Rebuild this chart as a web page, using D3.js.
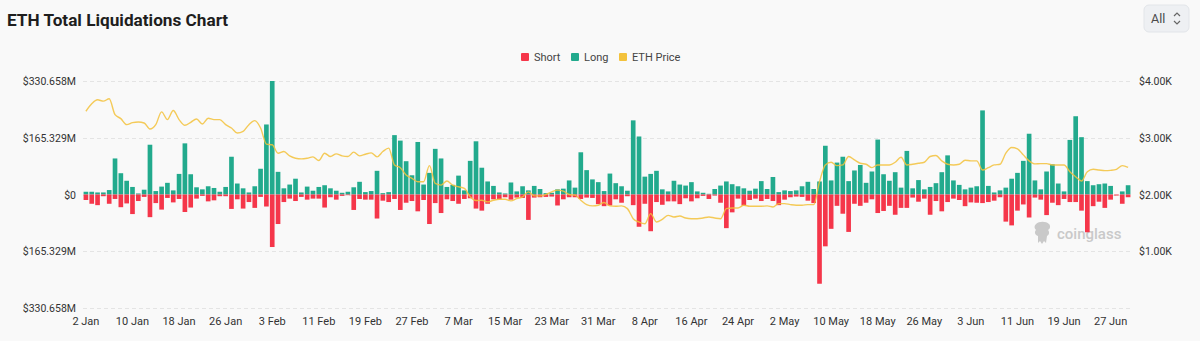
<!DOCTYPE html>
<html>
<head>
<meta charset="utf-8">
<script src="https://cdn.jsdelivr.net/npm/d3@7/dist/d3.min.js"></script>
<style>
  html, body { margin: 0; padding: 0; background: #f9f9f9; }
  svg { display: block; font-family: Roboto, "Noto Sans", sans-serif; }
</style>
</head>
<body>
<svg id="chart" width="1200" height="341"></svg>
<script>
// Daily ETH liquidations (USD millions) and ETH close price, 2 Jan – 30 Jun
const days = d3.timeDay.range(new Date(2025, 0, 2), new Date(2025, 6, 1));

const longM = [
  8, 8, 6, 6, 13, 105, 62, 40, 22, 3, 14, 145, 10, 23, 34, 12, 60, 149, 59, 21, 15, 24, 19, 8, 22, 110, 32, 18, 6, 24, 75, 204, 330.658, 66, 18, 29,
  46, 6, 23, 11, 22, 27, 18, 11, 5, 8, 21, 37, 7, 10, 69, 4, 7, 173, 157, 97, 56, 153, 29, 63, 133, 105, 22, 28, 55, 12, 98, 155, 78, 38, 25, 6,
  3, 35, 9, 24, 12, 25, 16, 4, 5, 15, 17, 41, 20, 123, 71, 44, 36, 10, 61, 33, 24, 11, 216, 169, 52, 60, 69, 15, 9, 40, 29, 26, 36, 9, 5, 2,
  16, 26, 38, 30, 24, 18, 11, 17, 39, 16, 51, 7, 12, 10, 12, 24, 37, 16, 38, 142, 41, 93, 110, 39, 70, 86, 34, 67, 160, 59, 40, 65, 20, 127, 18, 42,
  15, 22, 33, 65, 114, 41, 28, 15, 20, 24, 245, 25, 6, 12, 20, 46, 63, 98, 177, 41, 15, 67, 88, 32, 9, 159, 228, 167, 39, 27, 30, 32, 25, 0, 9, 27
];

const shortM = [
  16, 27, 31, 5, 27, 13, 37, 26, 57, 19, 7, 66, 25, 44, 10, 23, 13, 51, 38, 12, 4, 20, 17, 5, 5, 42, 14, 41, 22, 39, 7, 35, 153, 86, 22, 12,
  19, 7, 15, 12, 12, 38, 8, 15, 4, 2, 45, 13, 15, 15, 70, 18, 22, 13, 45, 24, 19, 49, 16, 86, 25, 54, 14, 19, 27, 13, 11, 41, 47, 27, 14, 14,
  8, 15, 9, 10, 74, 9, 8, 7, 6, 32, 14, 8, 8, 13, 9, 10, 28, 34, 32, 14, 24, 5, 31, 94, 27, 107, 22, 30, 20, 20, 28, 11, 20, 11, 4, 13,
  3, 24, 98, 52, 12, 32, 16, 12, 19, 13, 19, 31, 15, 8, 6, 7, 18, 25, 260, 151, 100, 33, 56, 109, 27, 33, 24, 14, 54, 48, 33, 59, 39, 39, 9, 21,
  12, 59, 19, 49, 22, 12, 16, 34, 23, 24, 25, 22, 18, 8, 79, 90, 47, 29, 67, 9, 15, 60, 24, 31, 13, 22, 22, 47, 110, 34, 21, 39, 15, 3, 27, 8
];

const ethPrice = [
  3467, 3598, 3669, 3645, 3686, 3408, 3337, 3231, 3266, 3278, 3260, 3154, 3231, 3456, 3320, 3479, 3320, 3219, 3272, 3331, 3243, 3343, 3320, 3320, 3231, 3172, 3083, 3112, 3231, 3302, 3172, 2888, 2876, 2728, 2757, 2680,
  2639, 2627, 2639, 2663, 2598, 2728, 2669, 2716, 2680, 2669, 2746, 2680, 2710, 2734, 2663, 2757, 2817, 2521, 2473, 2343, 2284, 2225, 2225, 2509, 2195, 2166, 2237, 2166, 2136, 2107, 1959, 1893, 1899, 1870, 1899, 1917,
  1917, 1888, 1929, 1959, 2047, 1976, 1976, 2000, 2047, 2077, 2059, 2000, 1988, 1899, 1822, 1799, 1811, 1858, 1799, 1793, 1799, 1751, 1574, 1515, 1485, 1663, 1515, 1562, 1633, 1604, 1621, 1586, 1574, 1574, 1586, 1604,
  1586, 1574, 1751, 1763, 1763, 1811, 1793, 1793, 1793, 1799, 1781, 1840, 1840, 1822, 1811, 1811, 1822, 1822, 2225, 2521, 2568, 2509, 2521, 2669, 2609, 2550, 2533, 2473, 2521, 2521, 2521, 2568, 2657, 2521, 2533, 2550,
  2568, 2669, 2686, 2592, 2533, 2521, 2533, 2604, 2592, 2592, 2432, 2473, 2521, 2533, 2728, 2828, 2805, 2698, 2592, 2539, 2544, 2544, 2521, 2521, 2521, 2402, 2314, 2237, 2402, 2444, 2432, 2420, 2426, 2444, 2509, 2479
];

const leftTicks = [330.658, 165.329, 0, -165.329, -330.658];
const leftTickLabels = ["$330.658M", "$165.329M", "$0", "$165.329M", "$330.658M"];
const rightTicks = [4000, 3000, 2000, 1000];
const rightTickLabels = ["$4.00K", "$3.00K", "$2.00K", "$1.00K"];
const xTickEvery = 8;
const fmtDay = d3.timeFormat("%-d %b");

const colors = { short: "#f5364a", long: "#22aa8d", price: "#f3c23c" };

const svg = d3.select("#chart");
const plot = { left: 83, right: 1131, top: 81, bottom: 308 };

const x = d3.scaleBand().domain(d3.range(days.length)).range([plot.left, plot.right]).paddingInner(0.2).paddingOuter(0.1);
const y = d3.scaleLinear().domain([-330.658, 330.658]).range([plot.bottom, plot.top]);
const yP = d3.scaleLinear().domain([0, 4000]).range([plot.bottom, plot.top]);

// title
svg.append("text").attr("x", 7).attr("y", 26)
  .attr("font-size", 17.2).attr("font-weight", 700).attr("fill", "#1e1e1e")
  .text("ETH Total Liquidations Chart");

// range selector
const sel = svg.append("g").attr("transform", "translate(1144,5)");
sel.append("rect").attr("width", 45).attr("height", 27).attr("rx", 5)
  .attr("fill", "#eef0f3").attr("stroke", "#e2e5e9");
sel.append("text").attr("x", 7).attr("y", 18).attr("font-size", 12.5).attr("fill", "#4a4a4a").text("All");
sel.append("path").attr("d", "M30 11 L33 8 L36 11 M30 16 L33 19 L36 16")
  .attr("fill", "none").attr("stroke", "#666").attr("stroke-width", 1.2);

// legend
const legend = [
  { label: "Short", color: colors.short, x: 521 },
  { label: "Long", color: colors.long, x: 571 },
  { label: "ETH Price", color: colors.price, x: 619 }
];
const lg = svg.append("g").selectAll("g").data(legend).join("g")
  .attr("transform", d => `translate(${d.x},53)`);
lg.append("rect").attr("width", 8).attr("height", 8).attr("rx", 1).attr("fill", d => d.color);
lg.append("text").attr("x", 13).attr("y", 8).attr("font-size", 11).attr("fill", "#444").text(d => d.label);

// grid
svg.append("g").selectAll("line").data(leftTicks).join("line")
  .attr("x1", plot.left).attr("x2", plot.right)
  .attr("y1", d => Math.round(y(d)) + 0.5).attr("y2", d => Math.round(y(d)) + 0.5)
  .attr("stroke", "#e4e4e4").attr("stroke-dasharray", "4,3");

// left axis labels
svg.append("g").selectAll("text").data(leftTicks).join("text")
  .attr("x", 76).attr("y", d => y(d) + 4).attr("text-anchor", "end")
  .attr("font-size", 10.5).attr("fill", "#333")
  .text((d, i) => leftTickLabels[i]);

// right axis labels
svg.append("g").selectAll("text").data(rightTicks).join("text")
  .attr("x", 1139).attr("y", d => yP(d) + 4).attr("text-anchor", "start")
  .attr("font-size", 10.5).attr("fill", "#333")
  .text((d, i) => rightTickLabels[i]);

// x axis labels
const xIdx = d3.range(0, days.length, xTickEvery);
svg.append("g").selectAll("text").data(xIdx).join("text")
  .attr("x", i => x(i) + x.bandwidth() / 2).attr("y", 325).attr("text-anchor", "middle")
  .attr("font-size", 11).attr("fill", "#333")
  .text(i => fmtDay(days[i]));

// watermark
const wm = svg.append("g").attr("transform", "translate(1032,221)").attr("fill", "#c9c9c9");
wm.append("path").attr("d", "M4 3 C7 0 14 0 17 3 C19 5 18 8 16 9 C18 11 17 14 15 15 L14 22 L12 20 L10 23 L8 20 L6 22 L6 15 C3 14 2 11 4 9 C2 7 2 5 4 3 Z");
wm.append("text").attr("x", 25).attr("y", 18).attr("font-size", 15).attr("font-weight", 500).text("coinglass");

// bars
const bars = svg.append("g");
bars.selectAll("rect.long").data(longM).join("rect").attr("class", "long")
  .attr("x", (d, i) => x(i)).attr("width", x.bandwidth())
  .attr("y", d => y(d)).attr("height", d => y(0) - y(d))
  .attr("fill", colors.long);
bars.selectAll("rect.short").data(shortM).join("rect").attr("class", "short")
  .attr("x", (d, i) => x(i)).attr("width", x.bandwidth())
  .attr("y", y(0)).attr("height", d => y(-d) - y(0))
  .attr("fill", colors.short);

// price line
const line = d3.line()
  .x((d, i) => x(i) + x.bandwidth() / 2)
  .y(d => yP(d))
  .curve(d3.curveMonotoneX);
svg.append("path").datum(ethPrice).attr("d", line)
  .attr("fill", "none").attr("stroke", colors.price).attr("stroke-width", 1.4).attr("stroke-opacity", 0.85);
</script>
</body>
</html>
